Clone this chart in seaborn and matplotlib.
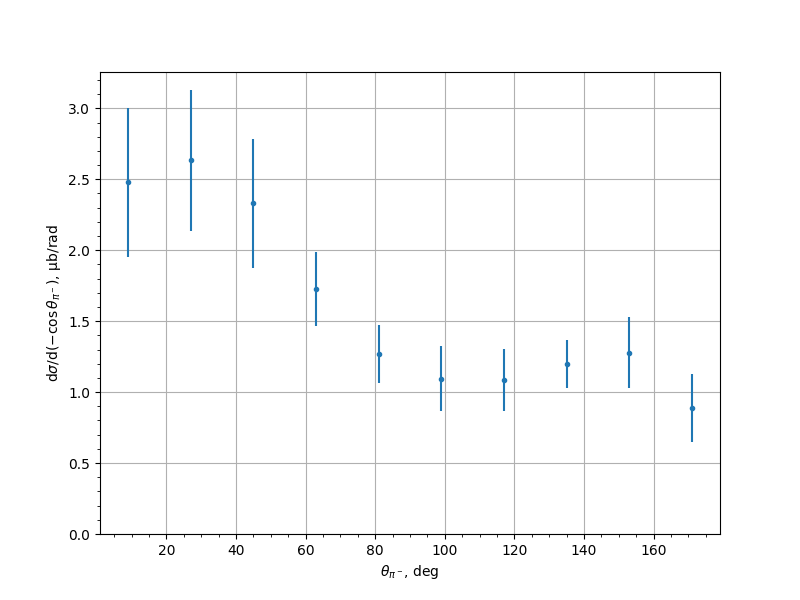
import matplotlib
matplotlib.use("Agg")
import matplotlib.pyplot as plt
import seaborn as sns
import pandas as pd
from matplotlib.ticker import AutoMinorLocator

theta = [9, 27, 45, 63, 81, 99, 117, 135, 153, 171]
dsigma = [2.48, 2.635, 2.33, 1.725, 1.27, 1.095, 1.087, 1.198, 1.278, 0.887]
err = [0.525, 0.497, 0.457, 0.26, 0.204, 0.229, 0.219, 0.168, 0.249, 0.242]

df = pd.DataFrame({"theta": theta, "dsigma": dsigma, "err": err})

fig, ax = plt.subplots(figsize=(8, 6), dpi=100)
ax.errorbar(df["theta"], df["dsigma"], yerr=df["err"], fmt="none",
            ecolor="C0", elinewidth=1.5, zorder=2)
sns.scatterplot(data=df, x="theta", y="dsigma", ax=ax, marker="o", s=9,
                color="C0", edgecolor="C0", linewidth=1, zorder=3)
ax.set_ylim(bottom=0)
ax.xaxis.set_minor_locator(AutoMinorLocator())
ax.yaxis.set_minor_locator(AutoMinorLocator())
ax.grid(True, which="major")
ax.set_axisbelow(True)
ax.set_xlabel(r"$\theta_{\pi^-}$, deg")
ax.set_ylabel(r"d$\sigma$/d($-\cos\theta_{\pi^-}$), μb/rad")
fig.savefig("out.png", dpi=100)
